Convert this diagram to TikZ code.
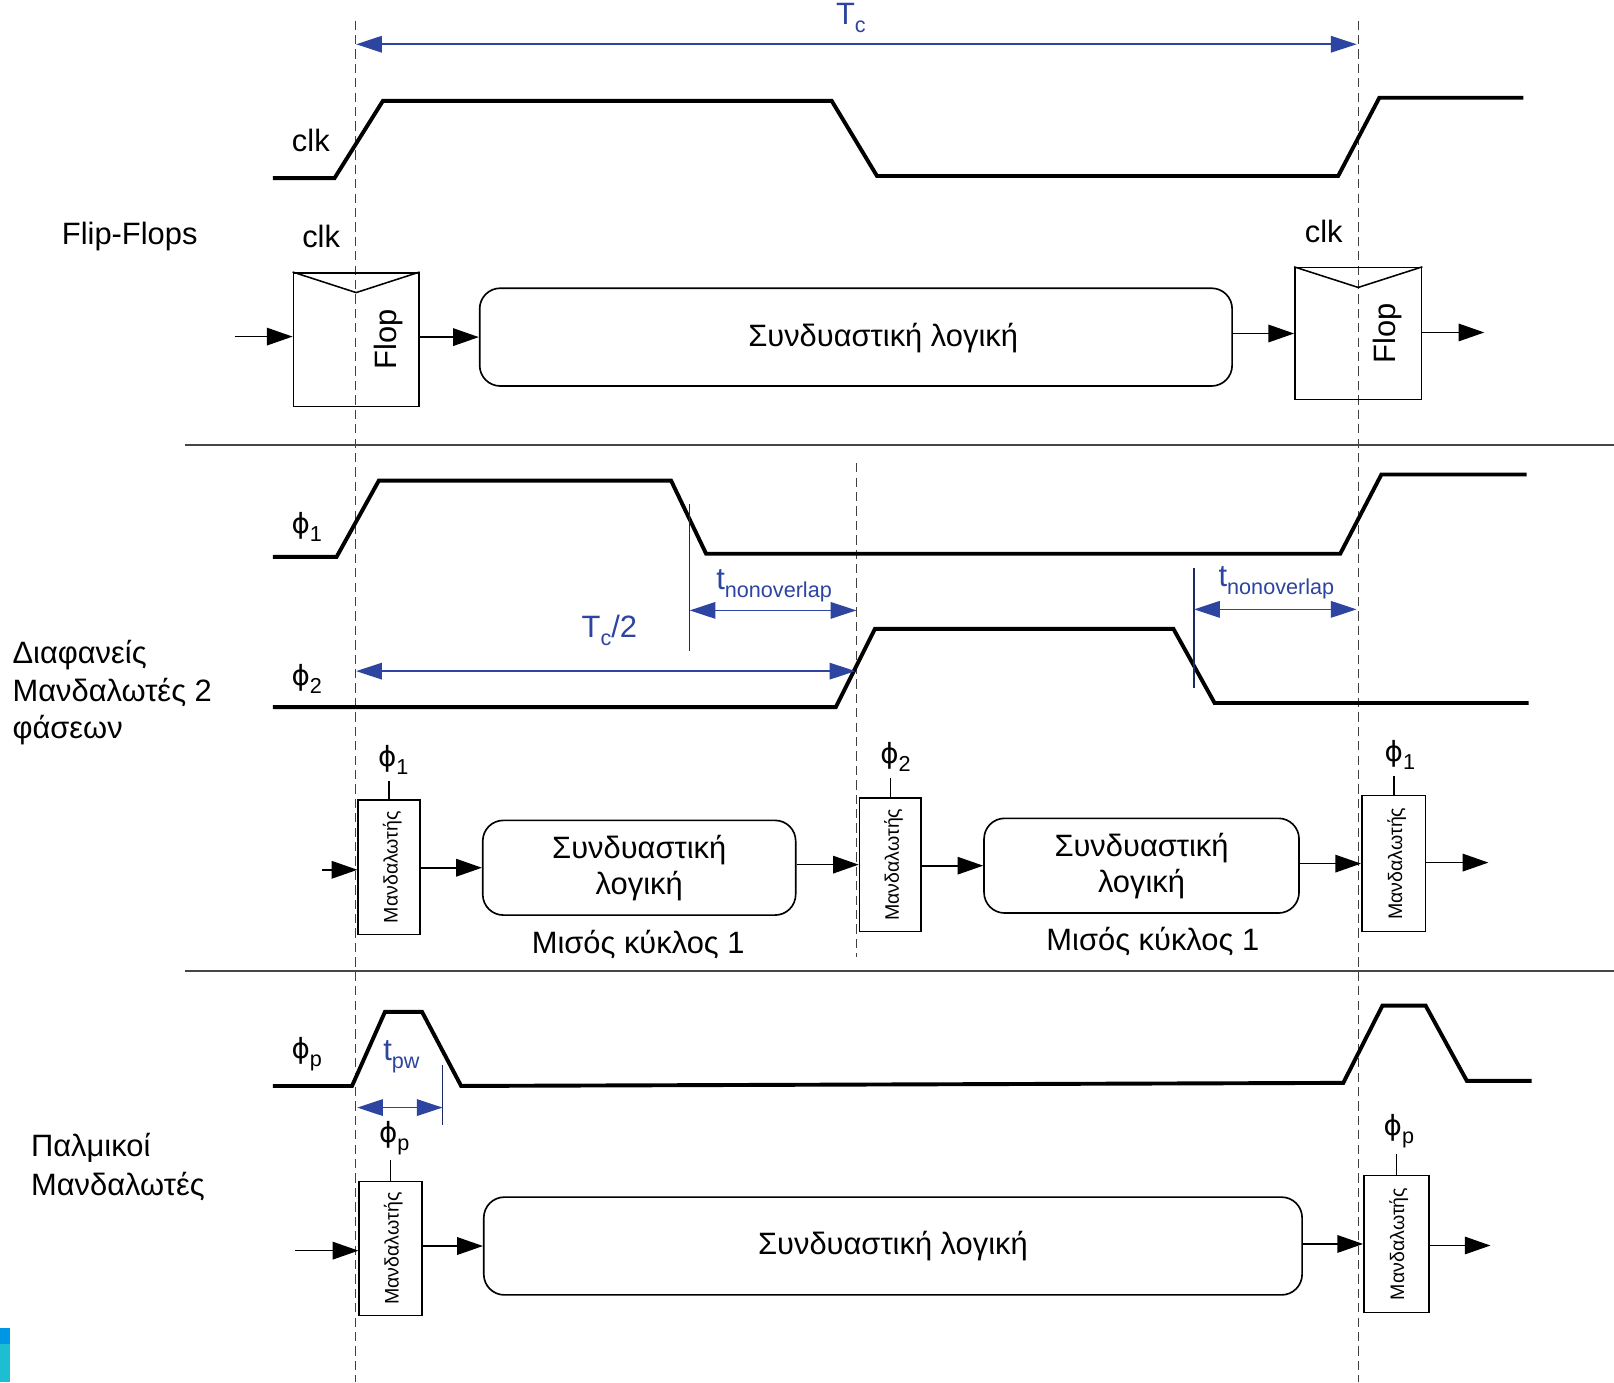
\documentclass[tikz,border=0pt]{standalone}
\usepackage{fontspec}
\setmainfont{Liberation Sans}
\newfontfamily\phifont{DejaVu Sans}
\usetikzlibrary{arrows.meta}
\definecolor{dimblue}{RGB}{45,68,160}
\definecolor{sepgray}{RGB}{70,70,70}
\definecolor{stripblue}{RGB}{0,150,230}
\definecolor{stripteal}{RGB}{30,190,210}
\newcommand{\myfs}[1]{\fontsize{#1}{#1}\selectfont}
\newcommand{\mysub}[2][21]{\raisebox{-0.26em}{\fontsize{#1}{#1}\selectfont #2}}
\newcommand{\myphi}{{\phifont\fontsize{27}{27}\selectfont ϕ}}
\begin{document}
\begin{tikzpicture}[x=1pt,y=-1pt,
  wave/.style={line width=3.8pt, line join=miter},
  dimarrow/.style={draw=dimblue, line width=1.6pt, {Triangle[length=25pt,width=16pt]}-{Triangle[length=25pt,width=16pt]}},
  marker/.style={draw=dimblue!60!black, line width=1.3pt},
  sigarrow/.style={line width=1.6pt, -{Triangle[length=25pt,width=17pt]}},
  combbox/.style={draw, line width=1.6pt, rounded corners=20pt, align=center, font=\myfs{30}, inner sep=0pt},
  regbox/.style={draw, line width=1.5pt, inner sep=0pt},
  vtext/.style={rotate=90, font=\myfs{19}, inner sep=0pt},
  lbl/.style={font=\myfs{30}, inner sep=0pt},
  bluelbl/.style={font=\myfs{30}, text=dimblue, inner sep=0pt},
  guide/.style={dash pattern=on 9pt off 5pt, line width=1.1pt, draw=black!75},
  sepline/.style={line width=2.2pt, draw=sepgray},
  tick/.style={line width=1.5pt}
]
\clip (0,0) rectangle (1568,1343);
\fill[white] (0,0) rectangle (1568,1343);

% guide lines
\coordinate (gA0) at (345,20);   \coordinate (gA1) at (345,1343);
\coordinate (gB0) at (1320,20);  \coordinate (gB1) at (1320,1343);
\coordinate (gC0) at (832,450);  \coordinate (gC1) at (832,930);
\draw[guide] (gA0) -- (gA1);
\draw[guide] (gB0) -- (gB1);
\draw[guide] (gC0) -- (gC1);

% separators
\coordinate (s1a) at (180,432); \coordinate (s1b) at (1568,432);
\coordinate (s2a) at (180,943); \coordinate (s2b) at (1568,943);
\draw[sepline] (s1a) -- (s1b);
\draw[sepline] (s2a) -- (s2b);

% ---------------- top: flip-flops ----------------
\node[bluelbl, anchor=base west] (tcLbl) at (812,24) {T\mysub{c}};
\coordinate (tcL) at (346,43); \coordinate (tcR) at (1318,43);
\draw[dimarrow] (tcL) -- (tcR);

\draw[wave] (265,173) -- (325,173) -- (372,98) -- (808,98) -- (852,171) -- (1300,171) -- (1340,95) -- (1480,95);
\node[lbl] (clkW) at (302,136) {clk};

\node[lbl, anchor=west] (ffLbl) at (60,230) {Flip-Flops};
\node[lbl] (clkA) at (312,230) {clk};
\node[lbl] (clkB) at (1286,225) {clk};

\node[regbox, minimum width=122pt, minimum height=130pt] (flopA) at (346,330) {};
\draw[line width=1.5pt] (flopA.north west) -- ([yshift=-20pt]flopA.north) -- (flopA.north east);
\node[lbl, rotate=90] (flopAt) at (377,330) {Flop};
\node[combbox, minimum width=731pt, minimum height=95pt] (combA) at (831.5,327.5) {};
\node[lbl] (combAt) at (858,328) {Συνδυαστική λογική};
\node[regbox, minimum width=123pt, minimum height=128pt] (flopB) at (1319.5,324) {};
\draw[line width=1.5pt] (flopB.north west) -- ([yshift=-20pt]flopB.north) -- (flopB.north east);
\node[lbl, rotate=90] (flopBt) at (1348,324) {Flop};

\coordinate (inA) at (228,327);
\coordinate (outA) at (1442,323);
\draw[sigarrow] (inA) -- (flopA.west |- inA);
\draw[sigarrow] (flopA.east |- combA.west) -- (combA.west);
\draw[sigarrow] (combA.east |- flopB.west) -- (flopB.west);
\draw[sigarrow] (flopB.east |- outA) -- (outA);

% ---------------- middle: two-phase latches ----------------
\draw[wave] (265,541) -- (327,541) -- (368,467) -- (652,467) -- (686,538) -- (1302,538) -- (1342,461) -- (1483,461);
\node[lbl] (ph1W) at (298,512) {\myphi\mysub{1}};
\draw[wave] (265,687) -- (812,687) -- (850,611) -- (1140,611) -- (1180,683) -- (1485,683);
\node[lbl] (ph2W) at (298,660) {\myphi\mysub{2}};

\coordinate (mk1a) at (670,490); \coordinate (mk1b) at (670,632);
\coordinate (mk2a) at (1160,552); \coordinate (mk2b) at (1160,668);
\draw[marker] (mk1a) -- (mk1b);
\draw[marker] (mk2a) -- (mk2b);

\node[bluelbl] (tno1) at (752,569) {t\mysub{nonoverlap}};
\node[bluelbl] (tno2) at (1240,566) {t\mysub{nonoverlap}};
\coordinate (no1L) at (670,593); \coordinate (no1R) at (832,593);
\coordinate (no2L) at (1160,592); \coordinate (no2R) at (1318,592);
\draw[dimarrow] (no1L) -- (no1R);
\draw[dimarrow] (no2L) -- (no2R);

\node[bluelbl] (tchalf) at (592,612) {T\mysub{c}/2};
\coordinate (hfL) at (346,652); \coordinate (hfR) at (831,652);
\draw[dimarrow] (hfL) -- (hfR);

\node[lbl, anchor=west, align=left, font=\fontsize{30}{36.5}\selectfont] (twoLbl) at (12,673) {Διαφανείς\\Μανδαλωτές 2\\φάσεων};

\node[regbox, minimum width=60pt, minimum height=131pt] (latA) at (378,842.5) {};
\node[vtext] (latAt) at (381,842.5) {Μανδαλωτής};
\node[combbox, minimum width=304pt, minimum height=92pt, font=\fontsize{30}{35}\selectfont] (combB) at (621,843) {Συνδυαστική\\λογική};
\node[regbox, minimum width=60pt, minimum height=130pt] (latB) at (865,840) {};
\node[vtext] (latBt) at (868,840) {Μανδαλωτής};
\node[combbox, minimum width=306pt, minimum height=92pt, font=\fontsize{30}{35}\selectfont] (combC) at (1109,841) {Συνδυαστική\\λογική};
\node[regbox, minimum width=62pt, minimum height=132pt] (latC) at (1354,839) {};
\node[vtext] (latCt) at (1357,839) {Μανδαλωτής};

\node[lbl] (halfA) at (620,918) {Μισός κύκλος 1};
\node[lbl] (halfB) at (1120,915) {Μισός κύκλος 1};

\draw[tick] (latA.north) -- ++(0,-18) coordinate (latAk);
\draw[tick] (latB.north) -- ++(0,-18) coordinate (latBk);
\draw[tick] (latC.north) -- ++(0,-18) coordinate (latCk);
\node[lbl] (phA) at (382,738) {\myphi\mysub{1}};
\node[lbl] (phB) at (870,735) {\myphi\mysub{2}};
\node[lbl] (phC) at (1360,733) {\myphi\mysub{1}};

\coordinate (inB) at (313,845);
\coordinate (outB) at (1446,838);
\draw[sigarrow] (inB) -- (latA.west |- inB);
\draw[sigarrow] (latA.east |- combB.west) -- (combB.west);
\draw[sigarrow] (combB.east |- latB.west) -- (latB.west);
\draw[sigarrow] (latB.east |- combC.west) -- (combC.west);
\draw[sigarrow] (combC.east |- latC.west) -- (latC.west);
\draw[sigarrow] (latC.east |- outB) -- (outB);

% ---------------- bottom: pulsed latches ----------------
\draw[wave] (265,1055) -- (342,1055) -- (374,983) -- (410,983) -- (448,1055) -- (1305,1052) -- (1343,977) -- (1385,977) -- (1425,1050) -- (1488,1050);
\node[lbl] (phpW) at (298,1024) {\myphi\mysub{p}};
\coordinate (mk3a) at (430,1035); \coordinate (mk3b) at (430,1093);
\draw[marker] (mk3a) -- (mk3b);
\node[bluelbl] (tpw) at (390,1027) {t\mysub{pw}};
\coordinate (pwL) at (347,1076); \coordinate (pwR) at (430,1076);
\draw[dimarrow] (pwL) -- (pwR);

\node[lbl, anchor=west, align=left, font=\fontsize{30}{38}\selectfont] (pulLbl) at (30,1134) {Παλμικοί\\Μανδαλωτές};

\node[regbox, minimum width=61pt, minimum height=130pt] (latD) at (379.5,1213) {};
\node[vtext] (latDt) at (382,1213) {Μανδαλωτής};
\node[combbox, minimum width=795pt, minimum height=95pt] (combD) at (867.5,1210.5) {Συνδυαστική λογική};
\node[regbox, minimum width=63pt, minimum height=133pt] (latE) at (1356.5,1208.5) {};
\node[vtext] (latEt) at (1359,1208.5) {Μανδαλωτής};

\draw[tick] (latD.north) -- ++(0,-20) coordinate (latDk);
\draw[tick] (latE.north) -- ++(0,-20) coordinate (latEk);
\node[lbl] (phD) at (383,1106) {\myphi\mysub{p}};
\node[lbl] (phE) at (1359,1099) {\myphi\mysub{p}};

\coordinate (inD) at (287,1215);
\coordinate (outD) at (1448,1210);
\draw[sigarrow] (inD) -- (latD.west |- inD);
\draw[sigarrow] (latD.east |- combD.west) -- (combD.west);
\draw[sigarrow] (combD.east |- latE.west) -- (latE.west);
\draw[sigarrow] (latE.east |- outD) -- (outD);

% corner strip
\fill[stripblue] (0,1290) rectangle (10,1306);
\fill[stripteal] (0,1306) rectangle (10,1343);
\end{tikzpicture}
\end{document}
